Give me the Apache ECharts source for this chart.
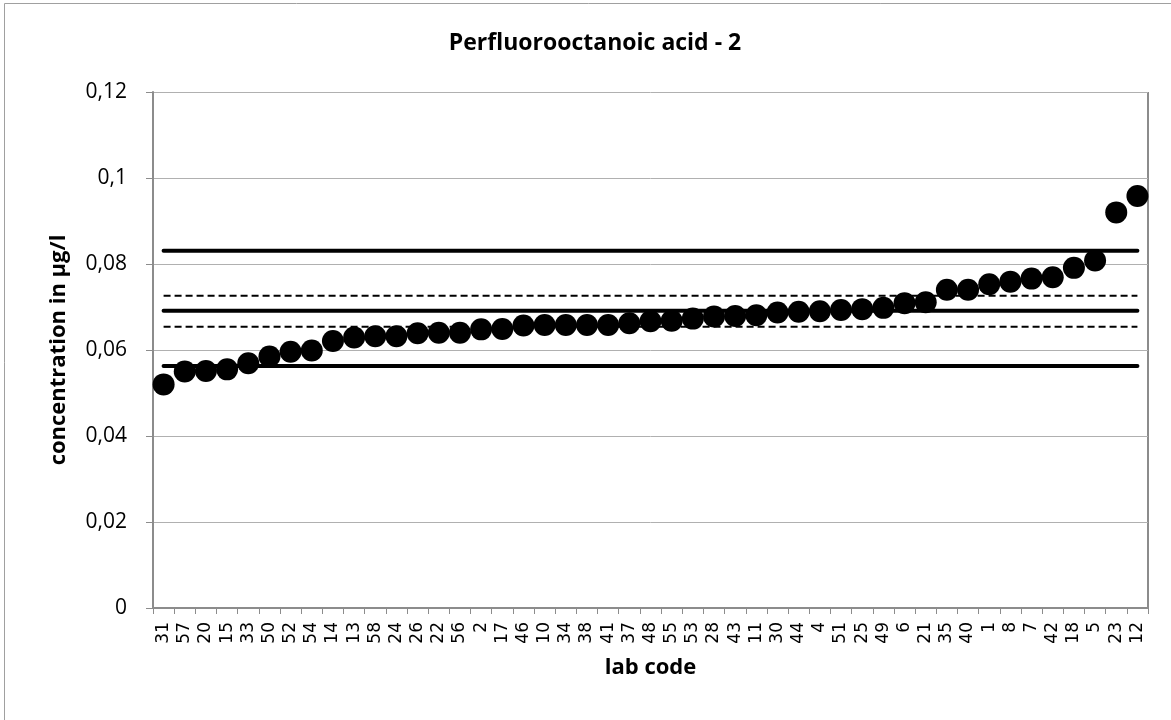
<!DOCTYPE html>
<html>
<head>
<meta charset="utf-8">
<script src="https://cdn.jsdelivr.net/npm/echarts@6/dist/echarts.min.js"></script>
<style>
html,body{margin:0;padding:0;background:#fff;}
#chart{width:1171px;height:720px;}
</style>
</head>
<body>
<div id="chart"></div>
<script>
const labCodes = ['31','57','20','15','33','50','52','54','14','13','58','24','26','22','56','2','17','46','10','34','38','41','37','48','55','53','28','43','11','30','44','4','51','25','49','6','21','35','40','1','8','7','42','18','5','23','12'];
const concentrations = [0.0520,0.0550,0.0551,0.0555,0.0569,0.0585,0.0596,0.0599,0.0621,0.0629,0.0632,0.0632,0.0639,0.0640,0.0640,0.0648,0.0649,0.0657,0.0658,0.0658,0.0658,0.0658,0.0662,0.0667,0.0668,0.0673,0.0678,0.0679,0.0681,0.0687,0.0689,0.0690,0.0693,0.0695,0.0698,0.0709,0.0711,0.0740,0.0740,0.0753,0.0759,0.0766,0.0769,0.0791,0.0808,0.0920,0.0958];
const solidLimits = [0.0831, 0.0691, 0.0563];
const dashedLimits = [0.0726, 0.0654];

const chart = echarts.init(document.getElementById('chart'), null, {renderer:'canvas'});

const lineSeries = [];
solidLimits.forEach(v => lineSeries.push({
  type:'line', data: labCodes.map(() => v), symbol:'none', silent:true, z:1,
  lineStyle:{color:'#000', width:4, cap:'round'}
}));
dashedLimits.forEach(v => lineSeries.push({
  type:'line', data: labCodes.map(() => v), symbol:'none', silent:true, z:1,
  lineStyle:{color:'#000', width:2, type:[7,4]}
}));

chart.setOption({
  animation:false,
  backgroundColor:'#fff',
  title:{
    text:'Perfluorooctanoic acid - 2', left:590, top:27, textAlign:'center',
    textStyle:{fontFamily:'Open Sans', fontWeight:'bold', fontSize:23, color:'#000'}
  },
  graphic:[
    {type:'rect', shape:{x:4.5, y:3.5, width:1300, height:900}, style:{fill:null, stroke:'#a0a0a0', lineWidth:1}, silent:true},
    {type:'line', shape:{x1:1148, y1:92, x2:1148, y2:608}, style:{stroke:'#8c8c8c', lineWidth:2}, silent:true}
  ],
  grid:{left:153, right:23, top:92, bottom:112, containLabel:false},
  xAxis:{
    type:'category', data:labCodes, boundaryGap:true,
    name:'lab code', nameLocation:'middle', nameGap:49,
    nameTextStyle:{fontFamily:'Open Sans', fontWeight:'bold', fontSize:22, color:'#000'},
    axisLine:{show:true, lineStyle:{color:'#8c8c8c', width:2}},
    axisTick:{show:true, alignWithLabel:false, length:6, lineStyle:{color:'#8c8c8c', width:1}},
    axisLabel:{interval:0, rotate:90, fontFamily:'DejaVu Sans', fontSize:17, color:'#000', margin:14},
    splitLine:{show:false}
  },
  yAxis:{
    type:'value', min:0, max:0.12, interval:0.02,
    name:'concentration in µg/l', nameLocation:'middle', nameGap:83,
    nameTextStyle:{fontFamily:'Open Sans', fontWeight:'bold', fontSize:22, color:'#000'},
    axisLine:{show:true, lineStyle:{color:'#8c8c8c', width:2}},
    axisTick:{show:true, inside:false, length:7, lineStyle:{color:'#8c8c8c'}},
    axisLabel:{fontFamily:'Open Sans', fontSize:21, color:'#000', margin:26,
      formatter: v => String(parseFloat(v.toFixed(2))).replace('.', ',')},
    splitLine:{show:true, lineStyle:{color:'#b0b0b0', width:1}}
  },
  series: lineSeries.concat([{
    type:'scatter', data:concentrations, symbol:'circle', symbolSize:22, z:5,
    itemStyle:{color:'#000', opacity:1}
  }])
});
</script>
</body>
</html>
